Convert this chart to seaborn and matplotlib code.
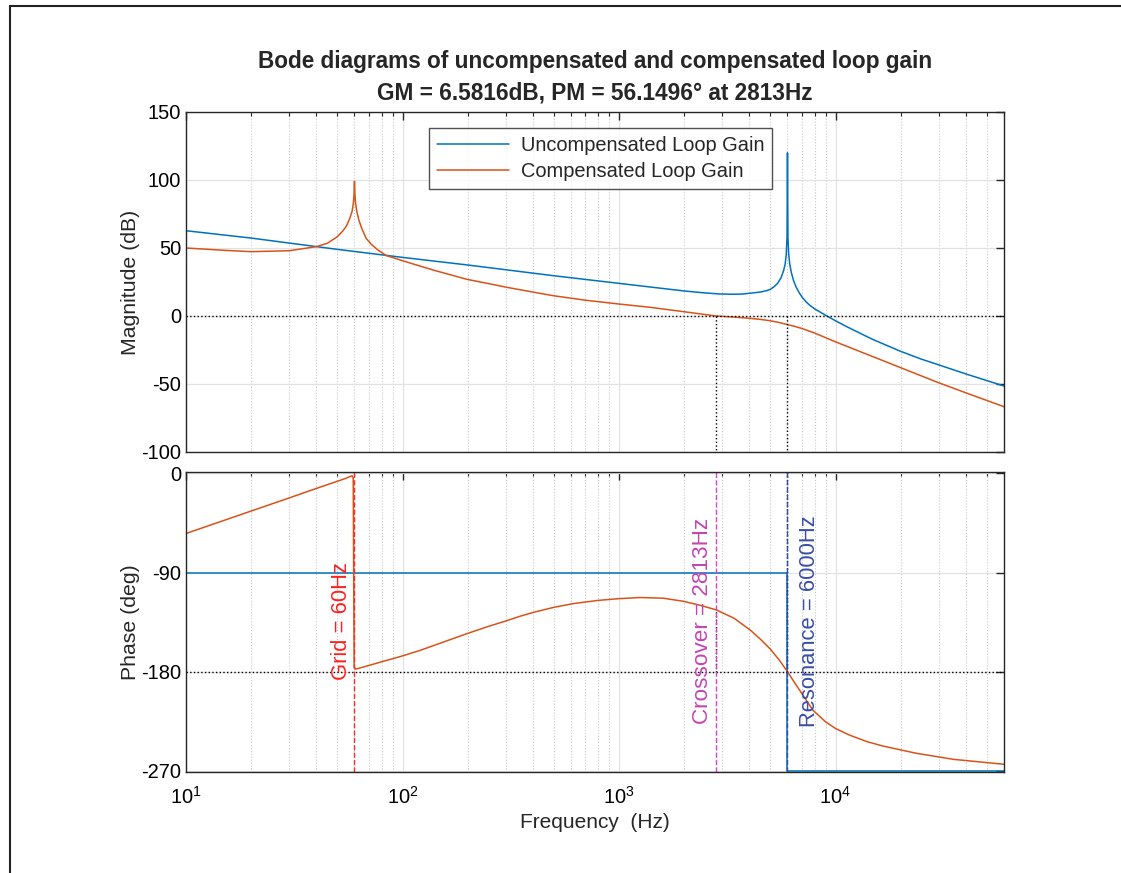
import matplotlib
matplotlib.use('Agg')
import matplotlib.pyplot as plt
import seaborn as sns
from matplotlib.lines import Line2D
from matplotlib.ticker import LogLocator, NullFormatter

# magnitude of the uncompensated loop gain (Hz, dB)
freq_mag_unc = [10, 20, 50, 100, 200, 500, 1000, 2000, 2400, 2900, 3300, 3700, 4000, 4500,
                4800, 5000, 5200, 5400, 5600, 5760, 5850, 5920, 5970, 6000, 6030, 6080,
                6150, 6250, 6400, 6590, 6800, 7000, 7300, 7590, 8000, 8470, 9120, 10000,
                11000, 12000, 13500, 15000, 16600, 20000, 25000, 29300, 40000, 60000]
mag_unc = [62.7, 57.3, 49.0, 43.1, 37.5, 29.6, 24.0, 18.4, 17.2, 16.2, 16.0, 16.1, 16.7, 17.6,
           18.6, 19.6, 21.5, 24, 28, 33.5, 38, 45, 58, 120, 58, 45,
           38, 32, 26, 21, 17, 14, 10.5, 8, 5.3, 3, 0, -3.5,
           -7, -10, -14, -17.5, -20.5, -26, -31.8, -35.4, -42.6, -51.5]

# magnitude of the compensated loop gain (Hz, dB)
freq_mag_comp = [10, 15, 20, 30, 40, 45, 50, 53, 55, 57, 58.5, 59.3, 59.7, 60, 60.3, 60.7,
                 61.5, 63, 65, 68, 72, 77, 84, 97.5, 120, 140, 198, 250, 303, 400, 498,
                 700, 1000, 1390, 1983, 2813, 3400, 4025, 4500, 5000, 5500, 6000, 6500,
                 7000, 8000, 10000, 20000, 29300, 40000, 60000]
mag_comp = [50, 48.3, 47.3, 48, 51, 53.5, 58.3, 62.5, 66, 71.5, 77, 83, 89, 99, 89, 83,
            77, 70, 64, 57, 52.5, 48.5, 44.5, 41.2, 36.8, 33.6, 27, 23.8, 21.1, 17.6, 14.9,
            11.6, 8.8, 6.4, 3.2, 0, -0.8, -1.7, -2.5, -3.5, -4.8, -6.3, -7.7,
            -9.2, -12.5, -19, -38, -48.5, -56.5, -66.7]

# phase (Hz, deg)
freq_ph_unc = [10, 6000, 6000, 60000]
ph_unc = [-90, -90, -270, -270]

freq_ph_comp = [10, 20, 30, 40, 50, 55, 57, 58.5, 59.2, 59.5, 59.8, 61, 70, 80, 97.5,
                120, 150, 198, 250, 303, 350, 403, 500, 615, 800, 1000, 1250, 1600, 1983,
                2400, 2813, 3400, 4025, 4500, 5000, 5500, 6000, 6500, 7000, 7870, 9000,
                10000, 11600, 14000, 16600, 23600, 35000, 60000]
ph_comp = [-54.6, -34.2, -22.3, -13.7, -7.2, -4.4, -3.0, -2.3, -4, -90, -176, -177.6,
           -174.3, -171, -166.3, -160.8, -154, -145.5, -138.8, -133.7, -129.6, -126.1,
           -121.6, -118.2, -115.3, -113.7, -112.7, -113.3, -116.1, -120, -123.9, -131.5,
           -142, -150.5, -159.5, -169.5, -180, -190.5, -200, -215, -225.5, -231.5,
           -237.5, -243.5, -247.5, -254, -259.5, -264]

f_grid = 60
f_cross = 2813
f_res = 6000
pm_phase = -123.85

BLUE = '#0072BD'
ORANGE = '#D95319'

sns.set_theme(style='white')
plt.rcParams['font.family'] = ['Liberation Sans', 'DejaVu Sans']
plt.rcParams['mathtext.fontset'] = 'custom'
plt.rcParams['mathtext.rm'] = 'Liberation Sans'
plt.rcParams['axes.unicode_minus'] = False

fig = plt.figure(figsize=(11.21, 8.73), dpi=100)
ax1 = fig.add_axes([0.16592, 0.48225, 0.72970, 0.38946])
ax2 = fig.add_axes([0.16592, 0.11569, 0.72970, 0.34364])

# screenshot frame
fig.add_artist(Line2D([9.5 / 1121, 9.5 / 1121], [0, 1 - 6 / 873], color='#222222', lw=1.5))
fig.add_artist(Line2D([9.5 / 1121, 1], [1 - 6 / 873, 1 - 6 / 873], color='#222222', lw=1.5))

sns.lineplot(x=freq_mag_unc, y=mag_unc, ax=ax1, color=BLUE, lw=1.1, sort=False,
             estimator=None, label='Uncompensated Loop Gain')
sns.lineplot(x=freq_mag_comp, y=mag_comp, ax=ax1, color=ORANGE, lw=1.1, sort=False,
             estimator=None, label='Compensated Loop Gain')
ax1.axhline(0, color='black', ls=':', lw=1)
ax1.plot([f_cross, f_cross], [0, -100], color='black', ls=':', lw=1)
ax1.plot([f_res, f_res], [0, -100], color='black', ls=':', lw=1)

sns.lineplot(x=freq_ph_unc, y=ph_unc, ax=ax2, color=BLUE, lw=1.1, sort=False, estimator=None)
sns.lineplot(x=freq_ph_comp, y=ph_comp, ax=ax2, color=ORANGE, lw=1.1, sort=False, estimator=None)
ax2.axhline(-180, color='black', ls=':', lw=1)
ax2.plot([f_cross, f_cross], [-180, pm_phase], color='black', ls=':', lw=1)
ax2.plot([f_res, f_res], [1.2, -180], color='black', ls=':', lw=1)
ax2.axvline(f_grid, color='#ff2a2a', ls='--', lw=1)
ax2.axvline(f_cross, color='#d844c8', ls='--', lw=1)
ax2.axvline(f_res, color='#2f4fb0', ls='--', lw=1)
ax2.text(52.5, -134, 'Grid = 60Hz', color='#ff2020', rotation=90, fontsize=15.8,
         ha='center', va='center')
ax2.text(2440, -134, 'Crossover = 2813Hz', color='#c445b0', rotation=90, fontsize=16.2,
         ha='center', va='center')
ax2.text(7550, -134, 'Resonance = 6000Hz', color='#3a4ea8', rotation=90, fontsize=15.8,
         ha='center', va='center')

for ax in (ax1, ax2):
    ax.set_xscale('log')
    ax.set_xlim(10, 60000)
    ax.xaxis.set_major_locator(LogLocator(base=10))
    ax.xaxis.set_minor_locator(LogLocator(base=10, subs=range(2, 10)))
    ax.xaxis.set_minor_formatter(NullFormatter())
    ax.grid(True, which='major', color='#e2e2e2', lw=0.9, ls='-')
    ax.grid(True, which='minor', axis='x', color='#c8c8c8', lw=0.8, ls=':')
    ax.tick_params(which='both', direction='in', top=True, right=True, colors='#262626',
                   labelcolor='black', labelsize=14.5)
    ax.tick_params(which='major', length=6, width=1)
    ax.tick_params(which='minor', length=3, width=0.8)
    ax.tick_params(axis='x', which='major', pad=10)
    for s in ax.spines.values():
        s.set_color('#262626')
        s.set_linewidth(1)
    ax.set_axisbelow(True)

ax1.set_ylim(-100, 150)
ax1.set_yticks([-100, -50, 0, 50, 100, 150])
ax1.tick_params(labelbottom=False)
ax1.set_ylabel('Magnitude (dB)', fontsize=15.3)
ax1.set_xlabel('')

ax2.set_ylim(-271, 1.2)
ax2.set_yticks([-270, -180, -90, 0])
ax2.set_ylabel('Phase (deg)', fontsize=15.3)
ax2.set_xlabel('Frequency  (Hz)', fontsize=15)
ax1.yaxis.set_label_coords(-0.056, 0.5)
ax2.yaxis.set_label_coords(-0.056, 0.5)

leg = ax1.legend(loc='upper center', bbox_to_anchor=(0.507, 0.953), fontsize=14.4,
                 frameon=True, fancybox=False, handlelength=3.6, borderpad=0.4,
                 labelspacing=0.33, handletextpad=0.6, borderaxespad=0)
leg.get_frame().set_edgecolor('#262626')
leg.get_frame().set_linewidth(1)

ax1.set_title('Bode diagrams of uncompensated and compensated loop gain\n'
              'GM = 6.5816dB, PM = 56.1496° at 2813Hz',
              fontsize=16.25, fontweight='bold', pad=9, linespacing=1.45)

fig.savefig('out.png', dpi=100, facecolor='white')
